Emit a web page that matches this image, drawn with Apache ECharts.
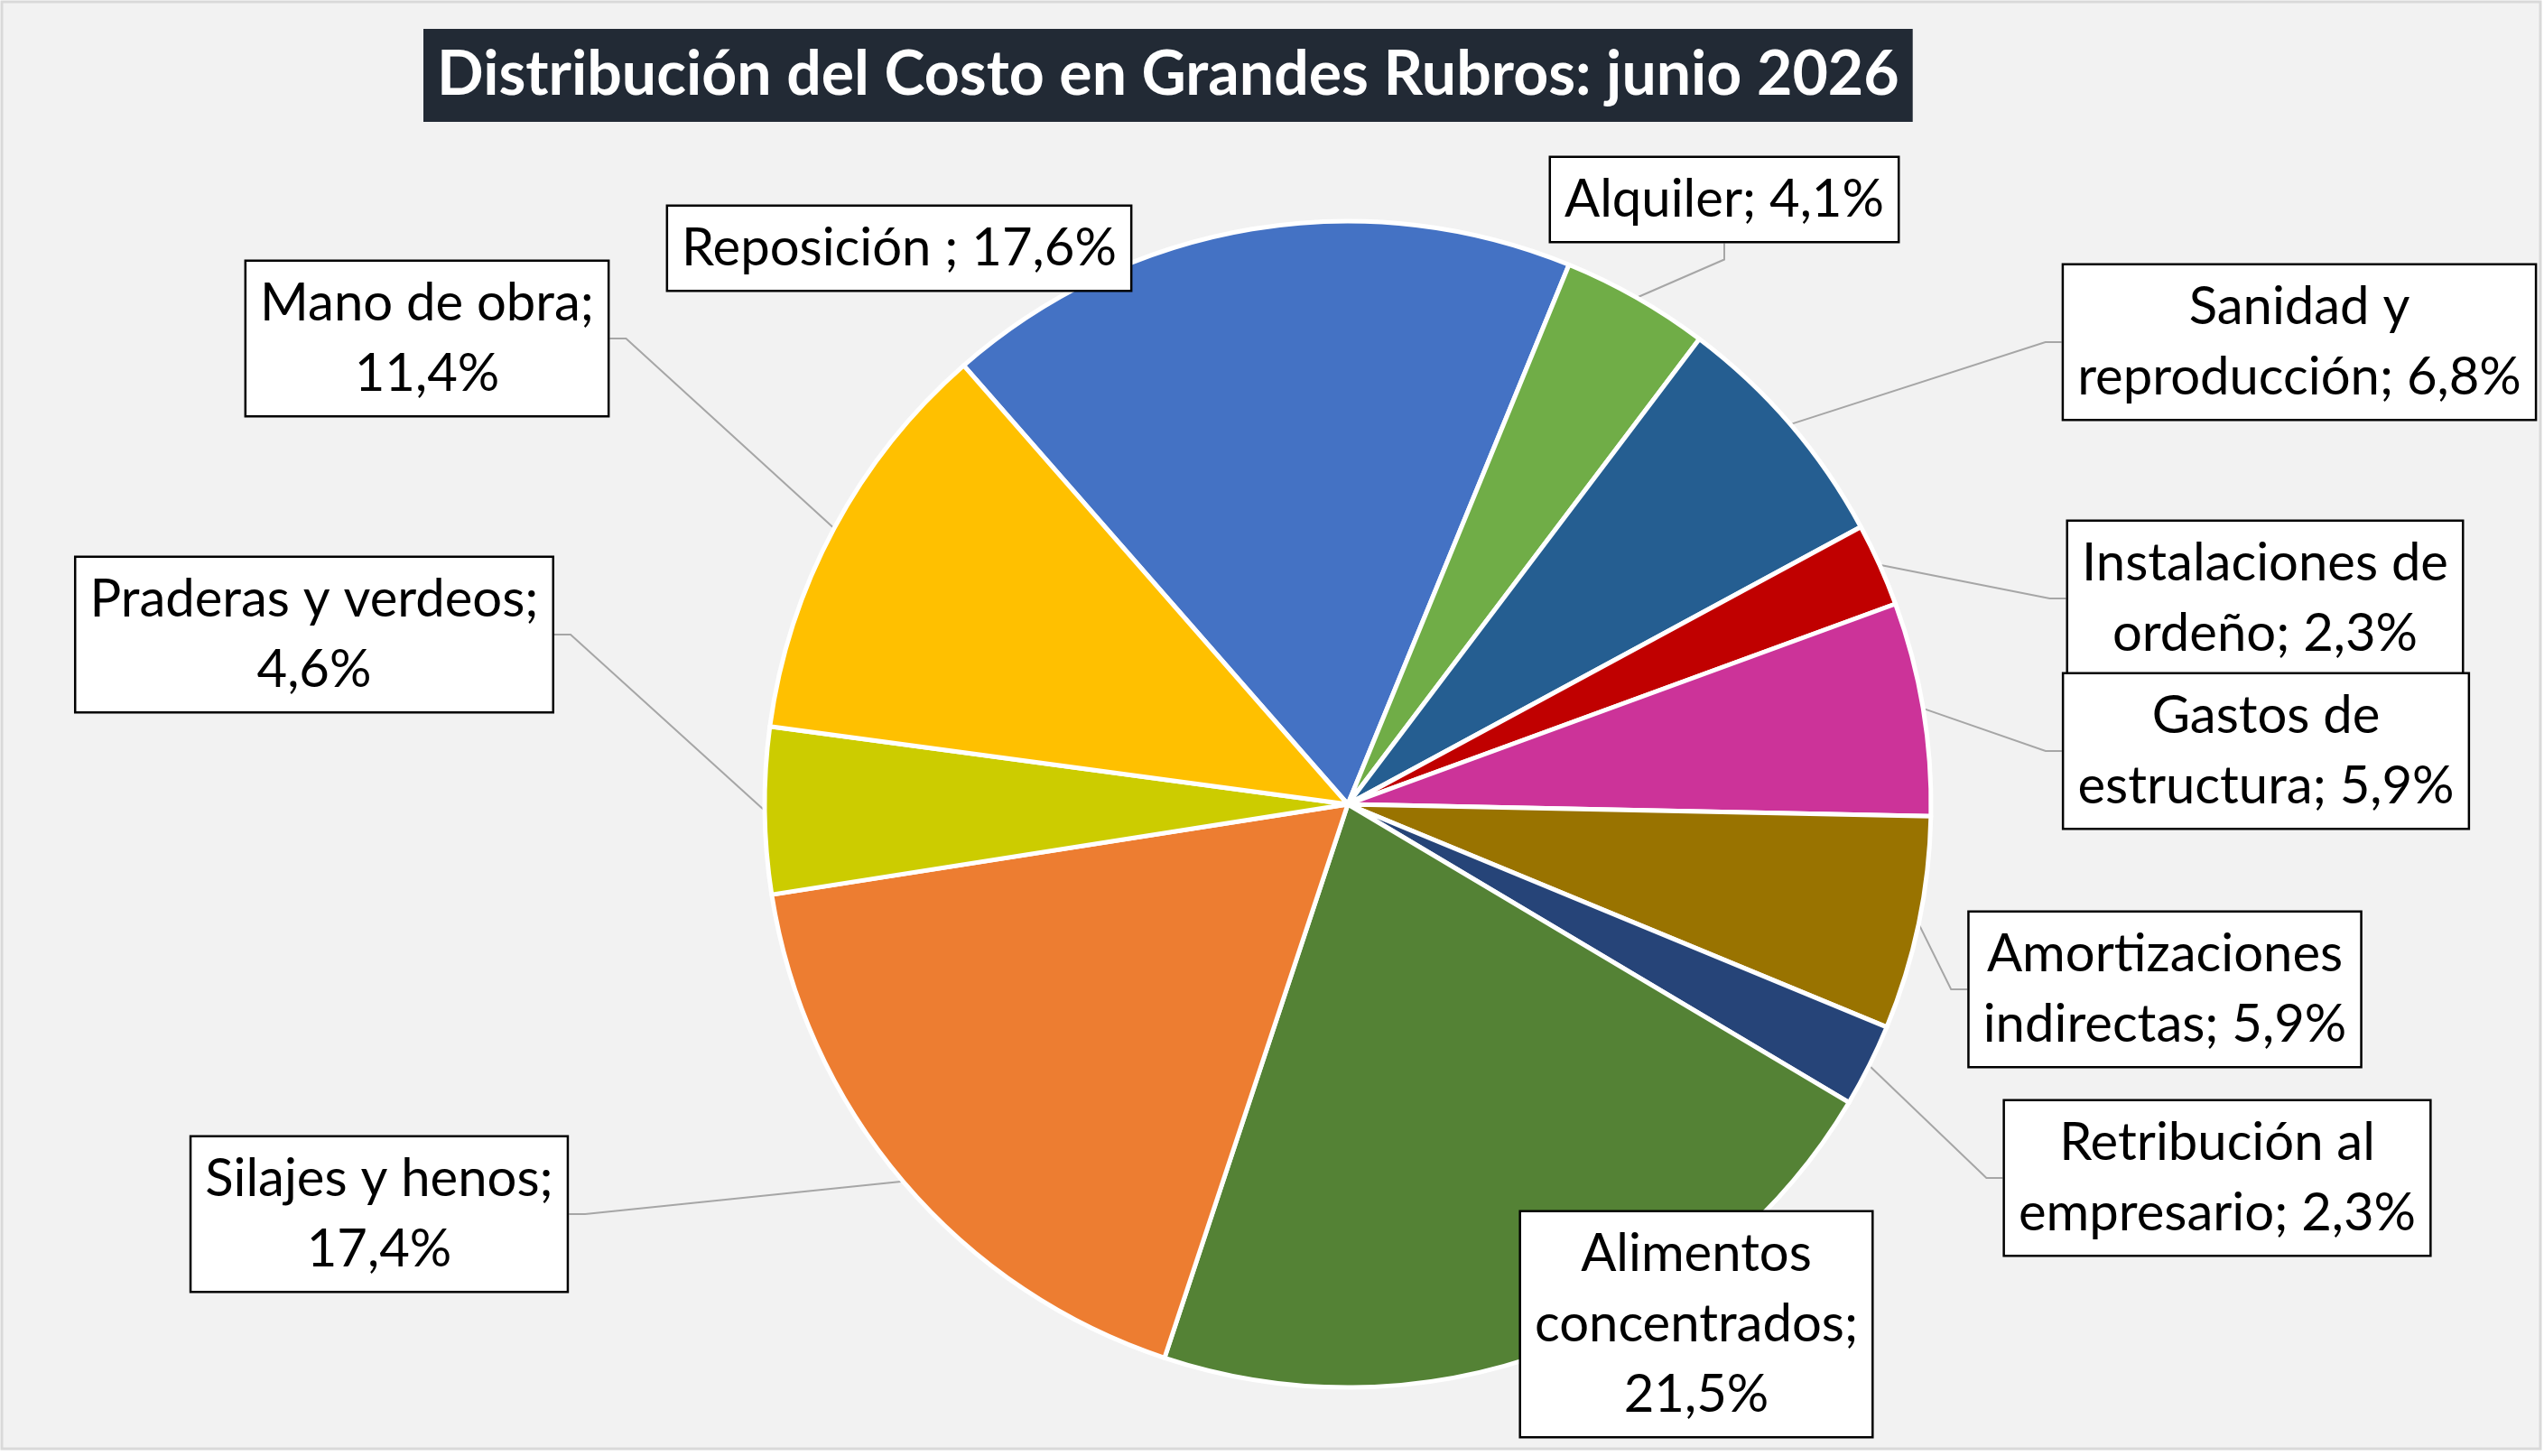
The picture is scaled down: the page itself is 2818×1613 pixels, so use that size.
<!DOCTYPE html>
<html><head><meta charset="utf-8">
<script src="https://cdn.jsdelivr.net/npm/echarts@6/dist/echarts.min.js"></script>
<style>html,body{margin:0;padding:0;background:#ffffff;} #c{width:2818px;height:1613px;}</style>
</head><body><div id="c"></div>
<script>
const titleText = 'Distribución del Costo en Grandes Rubros: junio 2026';
const categories = ['Reposición', 'Alquiler', 'Sanidad y\nreproducción', 'Instalaciones de\nordeño', 'Gastos de\nestructura', 'Amortizaciones\nindirectas', 'Retribución al\nempresario', 'Alimentos\nconcentrados', 'Silajes y henos', 'Praderas y verdeos', 'Mano de obra'];
const values = [17.6, 4.1, 6.8, 2.3, 5.9, 5.9, 2.3, 21.5, 17.4, 4.6, 11.4];
const separators = [' ; ', '; ', '; ', '; ', '; ', '; ', '; ', ';\n', ';\n', ';\n', ';\n'];
const colors = ['#4472C4', '#70AD47', '#255E91', '#C00000', '#CC3399', '#997300', '#264478', '#548235', '#ED7D31', '#CCCC00', '#FFC000'];
const showLeader = [false, true, true, true, true, true, true, true, true, true, true];

// label box centres (layout configuration, in pixels)
const labelCenters = [[996,275],[1910,221],[2547,379],[2509,663],[2510,832],[2398,1096],[2456,1305],[1879,1467],[420,1345],[348,703],[473,375]];

const chart = echarts.init(document.getElementById('c'));
chart.setOption({
  backgroundColor: '#ffffff',
  animation: false,
  graphic: [{
    type: 'rect', silent: true, z: -10,
    shape: { x: 2, y: 2, width: 2812, height: 1603 },
    style: { fill: '#F2F2F2', stroke: '#D9D9D9', lineWidth: 3 }
  }],
  title: {
    text: titleText,
    left: 469, top: 32,
    backgroundColor: '#222A35',
    padding: [14, 15],
    textStyle: { color: '#ffffff', fontFamily: 'Lato', fontWeight: 'bold', fontSize: 68, lineHeight: 75 }
  },
  series: [{
    type: 'pie',
    center: [1493, 891],
    radius: 646,
    startAngle: 131.2,
    clockwise: true,
    avoidLabelOverlap: false,
    data: categories.map((n, i) => ({ name: n, value: values[i], itemStyle: { color: colors[i] }, labelLine: { show: showLeader[i] } })),
    itemStyle: { borderColor: '#ffffff', borderWidth: 5 },
    label: {
      show: true,
      position: 'outside',
      formatter: p => p.name + separators[p.dataIndex] + p.value.toFixed(1).replace('.', ',') + '%',
      fontFamily: 'Lato', fontSize: 58, lineHeight: 78, color: '#000000',
      align: 'center',
      backgroundColor: '#ffffff', borderColor: '#000000', borderWidth: 2.5,
      padding: [7, 15]
    },
    labelLine: { show: true, length: 20, length2: 18, lineStyle: { color: '#A6A6A6', width: 2 } },
    labelLayout: function (params) {
      const c = labelCenters[params.dataIndex];
      return { x: c[0], y: c[1], align: 'center', verticalAlign: 'middle' };
    },
    emphasis: { disabled: true }
  }]
});
</script></body></html>
